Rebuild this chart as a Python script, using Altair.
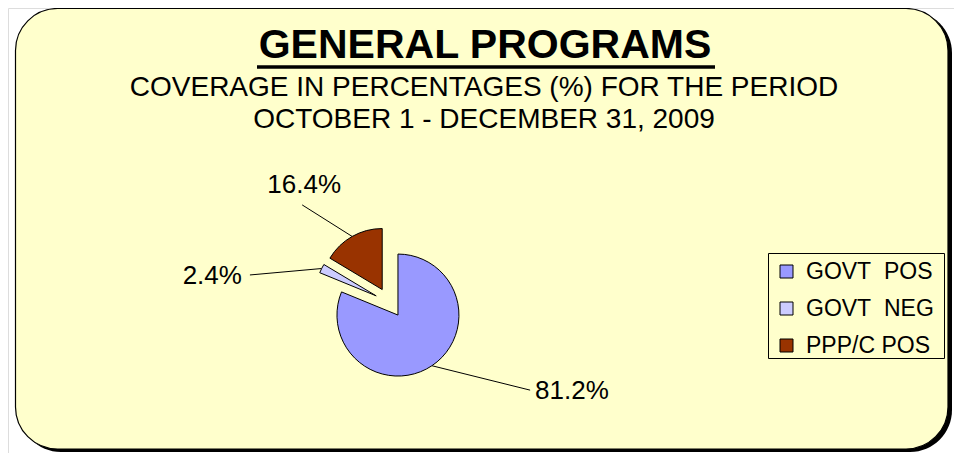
import altair as alt
import pandas as pd

# ---------------- data ----------------
categories = ["GOVT\u00a0\u00a0POS", "GOVT\u00a0\u00a0NEG", "PPP/C POS"]
values = [81.2, 2.4, 16.4]
label_texts = ["81.2%", "2.4%", "16.4%"]
colors = ["#9999FF", "#CCCCFF", "#993300"]

title_text = "GENERAL PROGRAMS"
subtitle_lines = ["COVERAGE IN PERCENTAGES (%) FOR THE PERIOD",
                  "OCTOBER 1 - DECEMBER 31, 2009"]

# ---------------- layout / style ----------------
W, H = 946, 445
FONT = "Liberation Sans"
CX, CY = 381.6, 294.6      # pie centre (px)
R = 61                     # pie radius (px)
EXPLODE = 15               # explode distance (px)
# leader-line end: angle (deg, clockwise from 12 o'clock) and distance from slice centre
leader_angle = [119.6, 279.4, 316.6]
leader_dist = [152, 128, 116.5]
label_align = ["left", "right", "center"]
label_dx = [5, -8, 2]
label_dy = [9, 9, -12]

df = pd.DataFrame({
    "cat": categories,
    "value": values,
    "label": label_texts,
    "la": leader_angle,
    "ld": leader_dist,
    "ldx": label_dx,
    "ldy": label_dy,
    "align": label_align,
})

base = (
    alt.Chart(df)
    .transform_joinaggregate(total="sum(value)")
    .transform_window(cum="sum(value)", frame=[None, 0])
    .transform_calculate(t0="(datum.cum - datum.value) / datum.total * 2 * PI")
    .transform_calculate(t1="datum.cum / datum.total * 2 * PI")
    .transform_calculate(mid="(datum.t0 + datum.t1) / 2")
    .transform_calculate(cx=f"{CX} + {EXPLODE} * sin(datum.mid)")
    .transform_calculate(cy=f"{CY} - {EXPLODE} * cos(datum.mid)")
    .transform_calculate(sx=f"datum.cx + {R} * sin(datum.mid)")
    .transform_calculate(sy=f"datum.cy - {R} * cos(datum.mid)")
    .transform_calculate(ex="datum.cx + datum.ld * sin(datum.la * PI / 180)")
    .transform_calculate(ey="datum.cy - datum.ld * cos(datum.la * PI / 180)")
    .transform_calculate(tx="datum.ex + datum.ldx")
    .transform_calculate(ty="datum.ey + datum.ldy")
)

one = pd.DataFrame({"k": [0]})

shadow = alt.Chart(one).mark_rect(cornerRadius=42, color="black").encode(
    x=alt.value(11), x2=alt.value(944), y=alt.value(3), y2=alt.value(444)
)
frame = alt.Chart(one).mark_rect(
    cornerRadius=42, fill="#FFFFCC", stroke="black", strokeWidth=1.2
).encode(x=alt.value(7.5), x2=alt.value(940), y=alt.value(0.5), y2=alt.value(441))

legend_box = alt.Chart(one).mark_rect(
    fill="#FFFFCC", stroke="black", strokeWidth=1
).encode(x=alt.value(760.5), x2=alt.value(936.5), y=alt.value(245.5), y2=alt.value(350.5))

title = alt.Chart(pd.DataFrame({"t": [title_text]})).mark_text(
    font=FONT, fontSize=41, fontWeight="bold", color="black", align="center", baseline="alphabetic"
).encode(text="t:N", x=alt.value(477), y=alt.value(50))

underline = alt.Chart(one).mark_rule(color="black", strokeWidth=3.5).encode(
    x=alt.value(249), x2=alt.value(707), y=alt.value(59)
)

sub1 = alt.Chart(pd.DataFrame({"t": [subtitle_lines[0]]})).mark_text(
    font=FONT, fontSize=28, color="black", align="center", baseline="alphabetic"
).encode(text="t:N", x=alt.value(476), y=alt.value(88))
sub2 = alt.Chart(pd.DataFrame({"t": [subtitle_lines[1]]})).mark_text(
    font=FONT, fontSize=28, color="black", align="center", baseline="alphabetic"
).encode(text="t:N", x=alt.value(476), y=alt.value(120))

arcs = base.mark_arc(radius=R, stroke="black", strokeWidth=1).encode(
    x=alt.X("cx:Q", scale=None, axis=None),
    y=alt.Y("cy:Q", scale=None, axis=None),
    theta=alt.Theta("t0:Q", scale=None, stack=False),
    theta2=alt.Theta2("t1:Q"),
    color=alt.Color(
        "cat:N",
        scale=alt.Scale(domain=categories, range=colors),
        sort=categories,
        legend=alt.Legend(
            title=None, orient="none", legendX=767, legendY=252,
            symbolType="square", symbolSize=169, symbolStrokeColor="black",
            symbolStrokeWidth=1, symbolOpacity=1,
            labelFont=FONT, labelFontSize=23, labelColor="black",
            labelOffset=8, rowPadding=13, padding=0,
        ),
    ),
)

leaders = base.mark_rule(color="black", strokeWidth=1).encode(
    x=alt.X("sx:Q", scale=None, axis=None),
    y=alt.Y("sy:Q", scale=None, axis=None),
    x2="ex:Q",
    y2="ey:Q",
)

label_layers = []
for al in ["left", "right", "center"]:
    label_layers.append(
        base.transform_filter(f"datum.align == '{al}'").mark_text(
            font=FONT, fontSize=26, color="black", align=al, baseline="alphabetic"
        ).encode(
            x=alt.X("tx:Q", scale=None, axis=None),
            y=alt.Y("ty:Q", scale=None, axis=None),
            text="label:N",
        )
    )

chart = alt.layer(
    shadow, frame, title, underline, sub1, sub2, legend_box, leaders, arcs, *label_layers
).properties(
    width=W, height=H, autosize=alt.AutoSizeParams(type="none"), padding=0
).configure_view(stroke=None).configure(background="white")

chart.save("out.html", embed_options={"renderer": "svg", "actions": False})
